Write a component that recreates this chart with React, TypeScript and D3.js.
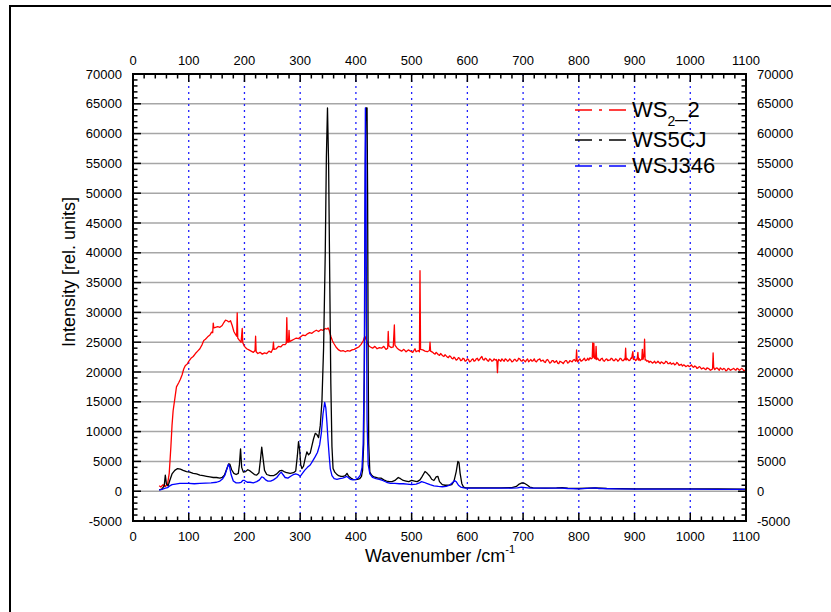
import React from "react";
import * as d3 from "d3";

// Raman spectra: [wavenumber cm^-1, intensity]
const ws22Points: [number, number][] = [
  [47, 900], [50, 700], [54, 1100], [58, 800], [62, 1200], [65, 3000], [68, 7500], [70, 11000],
  [72, 13500], [75, 15500], [78, 17500], [82, 18200], [85, 18800], [88, 19500], [91, 20500],
  [94, 21100], [97, 21300], [100, 21800], [104, 22300], [108, 22600], [112, 23100], [116, 23500],
  [120, 23900], [124, 24600], [127, 25300], [130, 25500], [134, 25900], [138, 26200], [141, 26700],
  [143, 26600], [144, 28200], [145, 27400], [148, 27500], [152, 27600], [156, 27500], [160, 27800],
  [163, 28300], [166, 28700], [169, 28600], [172, 28400], [175, 28600], [178, 27800], [181, 26800],
  [184, 26300], [186, 26000], [187, 29900], [188, 25700], [191, 25300], [194, 25000], [196, 27300],
  [197, 24900], [200, 24300], [204, 23900], [208, 23700], [212, 23500], [216, 23300], [219, 23600],
  [220, 26000], [221, 23400], [224, 23100], [228, 23300], [232, 23000], [236, 23200], [240, 23100],
  [244, 23500], [248, 23300], [251, 23900], [252, 25000], [253, 23800], [257, 23900], [261, 24300],
  [265, 24200], [269, 24600], [273, 24600], [275, 24800], [276, 29100], [277, 25000], [279, 25000],
  [280, 27000], [281, 25100], [285, 25300], [289, 25500], [293, 25700], [297, 25600], [301, 25900],
  [305, 26200], [309, 26100], [313, 26400], [317, 26600], [321, 26500], [325, 26800], [329, 27000],
  [333, 26800], [337, 27100], [341, 27000], [345, 27300], [348, 27200], [350, 27400], [352, 27000],
  [355, 26000], [358, 25200], [361, 24700], [365, 24100], [369, 23700], [373, 23500], [377, 23600],
  [381, 23400], [385, 23600], [389, 23500], [393, 23700], [397, 23800], [401, 24000], [405, 24200],
  [409, 24600], [413, 25200], [416, 26000], [418, 25500], [420, 25100], [423, 24400], [426, 24200],
  [430, 24000], [434, 24300], [438, 23900], [442, 24100], [446, 24000], [450, 24300], [454, 23800],
  [457, 24000], [458, 26800], [459, 24400], [463, 24100], [467, 24200], [469, 27900], [470, 24500],
  [474, 24000], [478, 23700], [482, 23500], [486, 23800], [490, 23400], [494, 23700], [498, 23500],
  [502, 23300], [506, 23900], [508, 23400], [512, 23600], [514, 23400], [515, 37000], [516, 23800],
  [520, 23700], [524, 23500], [528, 23400], [532, 23600], [533, 25000], [534, 23500], [538, 23300],
  [540, 23100], [542, 23000], [544, 23300], [546, 23100], [548, 22900], [550, 22800], [552, 23100],
  [554, 22900], [556, 22700], [558, 22600], [560, 22900], [562, 22700], [564, 22500], [566, 22400],
  [568, 22700], [570, 22600], [572, 22300], [574, 22200], [576, 22500], [578, 22300], [580, 22000],
  [582, 22100], [584, 22400], [586, 22300], [588, 21900], [590, 22000], [592, 22300], [594, 22200],
  [596, 21800], [598, 21900], [600, 22200], [602, 22100], [604, 21700], [606, 21800], [608, 22100],
  [610, 22200], [612, 21800], [614, 21900], [616, 22200], [618, 22300], [620, 21900], [622, 22100],
  [624, 22400], [626, 22600], [628, 22100], [630, 22000], [632, 22300], [634, 22200], [636, 21900],
  [638, 21800], [640, 22200], [642, 22100], [644, 21800], [646, 21900], [648, 22200], [650, 22000],
  [652, 22100], [653, 21800], [654, 19900], [655, 21700], [656, 22100], [658, 22000], [660, 21800],
  [662, 22200], [664, 22000], [666, 21800], [668, 22200], [670, 22100], [672, 21800], [674, 21900],
  [676, 22200], [678, 22000], [680, 21700], [682, 21800], [684, 22100], [686, 22100], [688, 21800],
  [690, 21900], [692, 22300], [694, 22200], [696, 21900], [698, 21800], [700, 22100], [702, 21900],
  [704, 21700], [706, 22000], [708, 22200], [710, 21700], [712, 21900], [714, 22100], [716, 21800],
  [718, 21900], [720, 22200], [722, 21800], [724, 21700], [726, 22000], [728, 22100], [730, 22200],
  [732, 21800], [734, 21900], [736, 22000], [738, 21700], [740, 21600], [742, 22000], [744, 22100],
  [746, 21800], [748, 21500], [750, 21600], [752, 21900], [754, 21900], [756, 21600], [758, 21700],
  [760, 21900], [762, 21500], [764, 21400], [766, 21800], [768, 21700], [770, 21600], [772, 21400],
  [774, 21700], [776, 21900], [778, 21900], [780, 21500], [782, 21600], [784, 21900], [786, 21800],
  [788, 21700], [790, 22000], [792, 22100], [794, 21800], [795, 21900], [796, 23700], [797, 21900],
  [798, 21700], [800, 22000], [802, 22200], [804, 21800], [806, 21900], [808, 22100], [810, 22300],
  [812, 21900], [814, 22000], [816, 22300], [818, 22000], [820, 22400], [822, 22200], [824, 22300],
  [825, 24900], [826, 22500], [827, 24800], [828, 22300], [830, 22200], [831, 24300], [832, 22100],
  [834, 22300], [836, 22000], [838, 21900], [840, 22200], [842, 22300], [844, 21900], [846, 21800],
  [848, 22100], [850, 22200], [852, 21900], [854, 22000], [856, 22000], [858, 22300], [860, 22200],
  [862, 21900], [864, 21900], [866, 22200], [868, 22100], [870, 21800], [872, 22000], [874, 22300],
  [876, 22200], [878, 21900], [880, 21900], [882, 22200], [883, 22100], [884, 24000], [885, 22000],
  [886, 22300], [888, 22100], [890, 21900], [892, 22000], [894, 22400], [895, 22300], [896, 23000],
  [897, 23400], [898, 22100], [900, 22200], [902, 21900], [904, 22100], [905, 22400], [906, 23300],
  [907, 22000], [908, 22300], [910, 21900], [912, 22100], [913, 22200], [914, 23800], [915, 22100],
  [916, 22400], [917, 23000], [918, 25500], [919, 22000], [920, 22100], [922, 21800], [924, 21900],
  [926, 21600], [928, 21800], [930, 21700], [932, 21500], [934, 21600], [936, 21800], [938, 21500],
  [940, 21600], [942, 21800], [944, 21600], [946, 21400], [948, 21700], [950, 21600], [952, 21400],
  [954, 21500], [956, 21800], [958, 21700], [960, 21400], [962, 21400], [964, 21600], [966, 21300],
  [968, 21400], [970, 21500], [972, 21200], [974, 21300], [976, 21600], [978, 21400], [980, 21100],
  [982, 21200], [984, 21300], [986, 21000], [988, 21200], [990, 21100], [992, 20900], [994, 21000],
  [996, 21100], [998, 20900], [1000, 21000], [1002, 21200], [1004, 20900], [1006, 20800],
  [1008, 21000], [1010, 20900], [1012, 20600], [1014, 20700], [1016, 20900], [1018, 20800],
  [1020, 20500], [1022, 20600], [1024, 20700], [1026, 20500], [1028, 20400], [1030, 20700],
  [1032, 20600], [1034, 20500], [1036, 20300], [1038, 20400], [1040, 20500], [1041, 23200],
  [1042, 20800], [1044, 20400], [1046, 20600], [1048, 20700], [1050, 20500], [1052, 20300],
  [1054, 20700], [1056, 20500], [1058, 20400], [1060, 20600], [1062, 20500], [1064, 20200],
  [1066, 20300], [1068, 20600], [1070, 20500], [1072, 20300], [1074, 20400], [1076, 20500],
  [1078, 20600], [1080, 20400], [1082, 20300], [1084, 20600], [1086, 20500], [1088, 20300],
  [1090, 20400], [1092, 20600], [1094, 20500], [1096, 20200], [1098, 20300], [1100, 20400],
];

const ws5cjPoints: [number, number][] = [
  [47, 200], [52, 400], [56, 900], [58, 2700], [60, 1200], [63, 900], [66, 1800], [70, 2900],
  [75, 3500], [80, 3800], [85, 3700], [90, 3500], [96, 3300], [102, 3200], [108, 3000], [114, 2900],
  [120, 2700], [126, 2600], [132, 2500], [138, 2400], [144, 2300], [150, 2300], [156, 2200],
  [160, 2300], [164, 2700], [168, 3700], [172, 4600], [174, 4500], [177, 3600], [181, 3000],
  [185, 2800], [189, 3000], [191, 4500], [193, 7100], [195, 4000], [198, 3200], [202, 3300],
  [206, 3600], [210, 3400], [214, 3100], [218, 2800], [222, 2700], [226, 3100], [229, 5500],
  [231, 7400], [233, 5800], [236, 3500], [240, 2800], [246, 2600], [252, 2600], [258, 2900],
  [263, 3400], [267, 3500], [271, 3300], [276, 3100], [282, 3000], [288, 3100], [292, 3400],
  [295, 6000], [297, 8300], [299, 7000], [301, 4500], [303, 3800], [306, 4200], [309, 5500],
  [312, 6600], [315, 6100], [318, 6400], [321, 7600], [324, 8800], [327, 9700], [330, 9500],
  [333, 9000], [336, 11000], [339, 15000], [342, 24000], [345, 40000], [347, 56000], [349, 64300],
  [351, 55000], [353, 36000], [355, 18000], [357, 7500], [359, 3800], [362, 3200], [365, 2900],
  [369, 2600], [373, 2500], [377, 2500], [381, 2600], [384, 3000], [387, 2500], [391, 2200],
  [395, 2000], [399, 1950], [403, 2000], [407, 2100], [410, 2500], [412, 3500], [414, 8000],
  [416, 30000], [417, 55000], [418, 64300], [420, 64300], [421, 50000], [422, 22000], [423, 8000],
  [425, 3200], [428, 2700], [432, 2400], [436, 2300], [440, 2200], [445, 2200], [450, 1900],
  [455, 1700], [460, 1600], [465, 1600], [470, 1800], [476, 2300], [480, 2100], [485, 1800],
  [490, 1700], [495, 1600], [500, 1800], [505, 1700], [510, 1600], [515, 1900], [519, 2500],
  [524, 3300], [528, 3000], [532, 2600], [536, 2000], [540, 1800], [544, 2400], [547, 2500],
  [550, 1600], [555, 1100], [560, 1000], [566, 1000], [572, 1100], [576, 1700], [580, 3300],
  [583, 5000], [585, 4800], [587, 3000], [590, 1300], [593, 700], [597, 550], [605, 550],
  [620, 550], [640, 550], [660, 550], [680, 600], [688, 800], [693, 1200], [698, 1400], [703, 1300],
  [708, 1000], [712, 700], [718, 550], [740, 500], [760, 550], [770, 600], [780, 500], [800, 450],
  [830, 550], [850, 450], [900, 400], [950, 400], [1000, 400], [1050, 400], [1100, 350],
];

const wsj346Points: [number, number][] = [
  [47, 200], [52, 300], [58, 500], [62, 600], [66, 900], [70, 1100], [76, 1200], [84, 1300],
  [92, 1300], [100, 1300], [110, 1250], [120, 1300], [130, 1350], [140, 1400], [150, 1500],
  [156, 1700], [161, 2100], [165, 2700], [168, 3600], [171, 4500], [173, 4300], [176, 2800],
  [180, 1700], [185, 1400], [190, 1400], [194, 1500], [197, 1800], [200, 1800], [205, 1500],
  [210, 1500], [216, 1400], [222, 1600], [227, 1900], [231, 2400], [234, 2300], [238, 1900],
  [242, 1700], [247, 1700], [252, 1900], [258, 2300], [263, 2900], [266, 3200], [269, 2800],
  [273, 2300], [278, 2200], [283, 2500], [288, 2800], [292, 2900], [296, 2800], [300, 2500],
  [304, 3000], [308, 3500], [313, 4000], [318, 4400], [322, 5000], [327, 5800], [331, 6500],
  [335, 7800], [338, 9800], [341, 13000], [344, 14900], [346, 14000], [348, 11500], [350, 8500],
  [352, 6000], [354, 3800], [357, 2600], [361, 2100], [366, 2000], [371, 2100], [376, 2200],
  [380, 2300], [383, 2500], [386, 2300], [390, 2000], [395, 1900], [400, 2000], [404, 2200],
  [408, 2700], [411, 4000], [413, 8000], [415, 20000], [416, 45000], [417, 64300], [418, 55000],
  [419, 30000], [420, 12000], [422, 4500], [425, 2900], [430, 2300], [436, 2100], [442, 2000],
  [448, 1800], [455, 1500], [462, 1300], [470, 1300], [478, 1250], [485, 1250], [492, 1200],
  [500, 1100], [508, 1200], [514, 1400], [518, 1600], [522, 1500], [527, 1300], [533, 1100],
  [540, 900], [548, 800], [555, 750], [562, 800], [568, 1000], [573, 1400], [577, 1800],
  [580, 1600], [584, 1000], [588, 700], [594, 550], [600, 500], [620, 500], [640, 500], [660, 500],
  [680, 500], [690, 550], [697, 700], [704, 600], [712, 500], [740, 500], [770, 500], [780, 450],
  [800, 400], [830, 550], [836, 450], [870, 400], [900, 350], [950, 350], [1000, 350], [1050, 320],
  [1100, 300],
];

const xTickValues = [0, 100, 200, 300, 400, 500, 600, 700, 800, 900, 1000, 1100];
const yTickValues = [-5000, 0, 5000, 10000, 15000, 20000, 25000, 30000, 35000, 40000, 45000, 50000, 55000, 60000, 65000, 70000];

const seriesNames = ["WS5CJ", "WSJ346"];
const seriesColors = ["#ff0000", "#000000", "#0000ff"];

const W = 831;
const H = 612;
const left = 133;
const right = 746;
const top = 74;
const bottom = 521;
const font = "'Liberation Sans', Arial, Helvetica, sans-serif";

export default function App() {
  const x = d3.scaleLinear().domain([0, 1100]).range([left, right]);
  const y = d3.scaleLinear().domain([-5000, 70000]).range([bottom, top]);
  const line = d3
    .line<[number, number]>()
    .x((d) => x(d[0]))
    .y((d) => y(d[1]));

  const xMinor = d3.range(0, 1101, 20);
  const yMinor = d3.range(-5000, 70001, 1000);
  const major = 8;
  const minor = 4.5;

  const series: [number, number][][] = [ws22Points, ws5cjPoints, wsj346Points];

  return (
    <svg width={W} height={H} style={{ position: "absolute", left: 0, top: 0, background: "#fff" }}>
      <rect x={0} y={0} width={W} height={H} fill="#fff" />
      {/* outer frame */}
      <line x1={10} y1={6} x2={W} y2={6} stroke="#000" strokeWidth={2} />
      <line x1={10} y1={5} x2={10} y2={H} stroke="#000" strokeWidth={2} />

      <defs>
        <clipPath id="plotClip">
          <rect x={left} y={top} width={right - left} height={bottom - top} />
        </clipPath>
      </defs>

      {/* horizontal grid */}
      {yTickValues.slice(1, -1).map((v) => (
        <line key={"gy" + v} x1={left} x2={right} y1={y(v)} y2={y(v)} stroke="#a6a6a6" strokeWidth={1.5} />
      ))}
      {/* vertical dotted grid */}
      {xTickValues.slice(1, -1).map((v) => (
        <line key={"gx" + v} x1={x(v)} x2={x(v)} y1={top} y2={bottom} stroke="#2020ff" strokeWidth={1.3} strokeDasharray="2 4" />
      ))}

      {/* spectra */}
      <g clipPath="url(#plotClip)">
        {series.map((s, i) => (
          <path key={"s" + i} d={line(s) ?? ""} fill="none" stroke={seriesColors[i]} strokeWidth={1.3} strokeLinejoin="round" />
        ))}
      </g>

      {/* ticks, pointing inward on all sides */}
      {xMinor.map((v) => {
        const len = v % 100 === 0 ? major : minor;
        return (
          <g key={"tx" + v} stroke="#000" strokeWidth={1.5}>
            <line x1={x(v)} x2={x(v)} y1={bottom} y2={bottom - len} />
            <line x1={x(v)} x2={x(v)} y1={top} y2={top + len} />
          </g>
        );
      })}
      {yMinor.map((v) => {
        const len = v % 5000 === 0 ? major : minor;
        return (
          <g key={"ty" + v} stroke="#000" strokeWidth={1.5}>
            <line x1={left} x2={left + len} y1={y(v)} y2={y(v)} />
            <line x1={right} x2={right - len} y1={y(v)} y2={y(v)} />
          </g>
        );
      })}

      {/* axes box */}
      <rect x={left} y={top} width={right - left} height={bottom - top} fill="none" stroke="#000" strokeWidth={2} />

      {/* tick labels */}
      <g fontFamily={font} fontSize={13} fill="#000">
        {xTickValues.map((v) => (
          <text key={"xb" + v} x={x(v)} y={bottom + 20} textAnchor="middle">{v}</text>
        ))}
        {xTickValues.map((v) => (
          <text key={"xt" + v} x={x(v)} y={top - 9} textAnchor="middle">{v}</text>
        ))}
        {yTickValues.map((v) => (
          <text key={"yl" + v} x={left - 11} y={y(v) + 4.5} textAnchor="end">{v}</text>
        ))}
        {yTickValues.map((v) => (
          <text key={"yr" + v} x={right + 11} y={y(v) + 4.5} textAnchor="start">{v}</text>
        ))}
      </g>

      {/* axis titles */}
      <text x={440} y={562} fontFamily={font} fontSize={18} textAnchor="middle">
        Wavenumber /cm<tspan fontSize={11} dy={-9}>-1</tspan>
      </text>
      <text transform="translate(75,272) rotate(-90)" fontFamily={font} fontSize={18} textAnchor="middle">
        Intensity [rel. units]
      </text>

      {/* legend */}
      <g fontFamily={font} fontSize={22}>
        {[110, 140, 166].map((ly, i) => (
          <line key={"lg" + i} x1={575} x2={626} y1={ly} y2={ly} stroke={seriesColors[i]} strokeWidth={1.5} strokeDasharray="17 7 3 7 17 100" />
        ))}
        <text x={632} y={117}>
          WS<tspan fontSize={14} dy={9}>2</tspan><tspan dy={-9}>_2</tspan>
        </text>
        <text x={632} y={147}>{seriesNames[0]}</text>
        <text x={632} y={173}>{seriesNames[1]}</text>
      </g>
    </svg>
  );
}
